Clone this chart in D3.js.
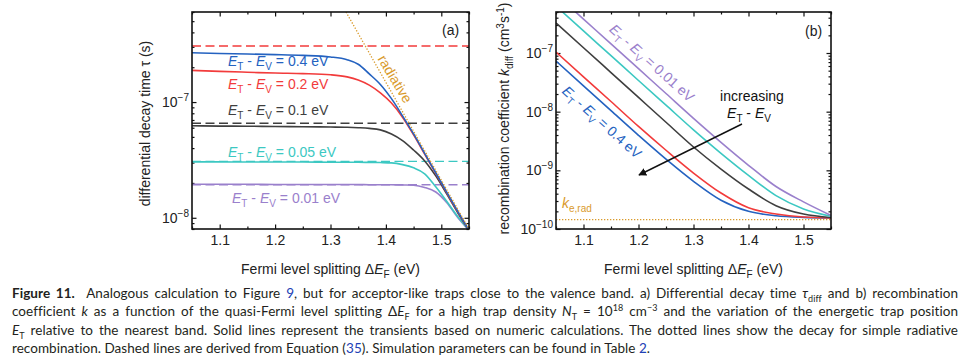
<!DOCTYPE html>
<html lang="en">
<head>
<meta charset="UTF-8">
<title>Figure 11</title>
<script src="https://cdn.jsdelivr.net/npm/d3@7"></script>
<style>
  body { margin: 0; background: #fff; width: 966px; height: 362px; overflow: hidden; position: relative; }
  svg text { font-family: "Liberation Sans", Arial, sans-serif; }
  .caption { position: absolute; left: 12px; top: 284px; width: 946px; font-family: Lato, sans-serif;
             font-size: 13.5px; line-height: 18.3px; color: #231f20; letter-spacing: 0.05px; }
  .caption .ln { text-align: justify; text-align-last: justify; }
  .caption sub, .caption sup { font-size: 9px; line-height: 0; }
  .caption a { color: #2141b5; text-decoration: none; }
</style>
</head>
<body>
<div id="chart"></div>
<div class="caption">
  <div class="ln"><b>Figure 11.</b>&nbsp; Analogous calculation to Figure <a>9</a>, but for acceptor-like traps close to the valence band. a) Differential decay time <i>τ</i><sub>diff</sub> and b) recombination</div>
  <div class="ln">coefficient <i>k</i> as a function of the quasi-Fermi level splitting Δ<i>E</i><sub>F</sub> for a high trap density <i>N</i><sub>T</sub> = 10<sup>18</sup> cm<sup>−3</sup> and the variation of the energetic trap position</div>
  <div class="ln"><i>E</i><sub>T</sub> relative to the nearest band. Solid lines represent the transients based on numeric calculations. The dotted lines show the decay for simple radiative</div>
  <div>recombination. Dashed lines are derived from Equation (<a>35</a>). Simulation parameters can be found in Table <a>2</a>.</div>
</div>
<script>
// trap positions E_T - E_V (eV), one colour each
const trapLevels = ["0.4", "0.2", "0.1", "0.05", "0.01"];
const colors = { "0.4": "#2462c0", "0.2": "#f23b3b", "0.1": "#3f3f3f", "0.05": "#3cc8c2", "0.01": "#9a80cc", rad: "#d99a2b" };

// (a) differential decay time tau (s) vs Fermi level splitting
const eA = [1.05, 1.10, 1.15, 1.20, 1.25, 1.30, 1.33, 1.35, 1.37, 1.39, 1.41, 1.43, 1.45, 1.47, 1.49, 1.51, 1.53, 1.55];
const tau04 = [2.67e-7, 2.63e-7, 2.60e-7, 2.57e-7, 2.53e-7, 2.45e-7, 2.32e-7, 2.12e-7, 1.75e-7, 1.42e-7, 1.07e-7, 7.6e-8, 5.3e-8, 3.6e-8, 2.45e-8, 1.66e-8, 1.13e-8, 7.8e-9];
const tau02 = [1.88e-7, 1.84e-7, 1.81e-7, 1.78e-7, 1.76e-7, 1.72e-7, 1.65e-7, 1.55e-7, 1.40e-7, 1.20e-7, 9.8e-8, 7.4e-8, 5.2e-8, 3.55e-8, 2.42e-8, 1.64e-8, 1.12e-8, 7.8e-9];
const tau01 = [6.25e-8, 6.2e-8, 6.18e-8, 6.15e-8, 6.12e-8, 6.08e-8, 6.05e-8, 6.0e-8, 5.92e-8, 5.75e-8, 5.3e-8, 4.65e-8, 3.85e-8, 3.1e-8, 2.3e-8, 1.6e-8, 1.1e-8, 7.8e-9];
const tau005 = [3.04e-8, 3.04e-8, 3.03e-8, 3.03e-8, 3.03e-8, 3.02e-8, 3.02e-8, 3.02e-8, 3.01e-8, 3.0e-8, 2.98e-8, 2.88e-8, 2.7e-8, 2.4e-8, 1.85e-8, 1.38e-8, 1.02e-8, 7.8e-9];
const tau001 = [1.95e-8, 1.95e-8, 1.95e-8, 1.94e-8, 1.94e-8, 1.94e-8, 1.94e-8, 1.94e-8, 1.93e-8, 1.93e-8, 1.93e-8, 1.92e-8, 1.91e-8, 1.83e-8, 1.67e-8, 1.35e-8, 1.0e-8, 7.8e-9];
// dashed analytic levels (Equation 35)
const dashLevels = ["0.2", "0.1", "0.05", "0.01"];
const dashTau = [3.05e-7, 6.55e-8, 3.07e-8, 1.93e-8];
// radiative limit (dotted)
const radE = [1.328, 1.55];
const radTau = [6e-7, 8e-9];

// (b) recombination coefficient k_diff (cm^3 s^-1)
const eB = [1.05, 1.10, 1.15, 1.20, 1.25, 1.30, 1.35, 1.40, 1.45, 1.50, 1.55];
const k04 = [7.3e-8, 2.75e-8, 1.04e-8, 3.95e-9, 1.55e-9, 6.5e-10, 3.1e-10, 2.0e-10, 1.68e-10, 1.58e-10, 1.55e-10];
const k02 = [1.04e-7, 3.93e-8, 1.49e-8, 5.6e-9, 2.2e-9, 9.0e-10, 4.1e-10, 2.3e-10, 1.8e-10, 1.6e-10, 1.55e-10];
const k01 = [3.25e-7, 1.23e-7, 4.64e-8, 1.75e-8, 6.6e-9, 2.5e-9, 1.05e-9, 4.8e-10, 2.5e-10, 1.8e-10, 1.57e-10];
const k005 = [6.3e-7, 2.38e-7, 9.0e-8, 3.4e-8, 1.29e-8, 4.9e-9, 1.95e-9, 8.2e-10, 3.7e-10, 2.2e-10, 1.65e-10];
const k001 = [1.0e-6, 3.78e-7, 1.43e-7, 5.4e-8, 2.04e-8, 7.7e-9, 3.0e-9, 1.22e-9, 5.3e-10, 2.9e-10, 1.7e-10];
const kRadE = [1.05, 1.55];
const kRad = [1.45e-10, 1.45e-10];

const xTicks = [1.1, 1.2, 1.3, 1.4, 1.5];
const xMinor = [1.05, 1.15, 1.25, 1.35, 1.45, 1.55];

const tauSeries = { "0.4": tau04, "0.2": tau02, "0.1": tau01, "0.05": tau005, "0.01": tau001 };
const kSeries = { "0.4": k04, "0.2": k02, "0.1": k01, "0.05": k005, "0.01": k001 };

const svg = d3.select("#chart").append("svg").attr("width", 966).attr("height", 282);

function minorLog(lo, hi) {
  const out = [];
  for (let p = Math.floor(Math.log10(lo)); p <= Math.ceil(Math.log10(hi)); p++)
    for (let m = 1; m <= 9; m++) {
      const v = m * Math.pow(10, p);
      if (v >= lo * 0.999 && v <= hi * 1.001) out.push(v);
    }
  return out;
}

function powLabel(sel) {
  sel.each(function(d) {
    const t = d3.select(this).text(null);
    t.append("tspan").text("10");
    t.append("tspan").attr("dy", "-0.6em").attr("font-size", "10px").text("−" + Math.abs(Math.round(Math.log10(d))));
  });
}

function makePanel(id, left, width, yDomain) {
  const top = 12, height = 217;
  const g = svg.append("g").attr("transform", `translate(${left},${top})`);
  const x = d3.scaleLinear().domain([1.05, 1.55]).range([0, width]);
  const y = d3.scaleLog().domain(yDomain).range([height, 0]);

  g.append("clipPath").attr("id", "clip" + id)
    .append("rect").attr("width", width).attr("height", height);

  const yMajor = minorLog(yDomain[0], yDomain[1]).filter(v => Math.abs(Math.log10(v) - Math.round(Math.log10(v))) < 1e-9);
  const yMinor = minorLog(yDomain[0], yDomain[1]).filter(v => !yMajor.includes(v));

  const styleAxis = a => { a.select(".domain").remove(); a.selectAll("line").attr("stroke", "#111").attr("stroke-width", 1.2); };

  // bottom / top
  g.append("g").attr("transform", `translate(0,${height})`)
    .call(d3.axisBottom(x).tickValues(xTicks).tickSize(-4.5).tickSizeOuter(0).tickPadding(6).tickFormat(d3.format(".1f")))
    .call(styleAxis)
    .selectAll("text").attr("font-size", "14px").attr("fill", "#222");
  g.append("g").attr("transform", `translate(0,${height})`)
    .call(d3.axisBottom(x).tickValues(xMinor).tickSize(-2.5).tickSizeOuter(0).tickFormat(""))
    .call(styleAxis);
  g.append("g").call(d3.axisTop(x).tickValues(xTicks).tickSize(-4.5).tickSizeOuter(0).tickFormat("")).call(styleAxis);
  g.append("g").call(d3.axisTop(x).tickValues(xMinor).tickSize(-2.5).tickSizeOuter(0).tickFormat("")).call(styleAxis);

  // left / right
  g.append("g")
    .call(d3.axisLeft(y).tickValues(yMajor).tickSize(-4.5).tickSizeOuter(0).tickPadding(3))
    .call(styleAxis)
    .selectAll("text").attr("font-size", "14px").attr("fill", "#222").call(powLabel);
  g.append("g").call(d3.axisLeft(y).tickValues(yMinor).tickSize(-2.5).tickSizeOuter(0).tickFormat("")).call(styleAxis);
  g.append("g").attr("transform", `translate(${width},0)`)
    .call(d3.axisRight(y).tickValues(yMajor).tickSize(-4.5).tickSizeOuter(0).tickFormat("")).call(styleAxis);
  g.append("g").attr("transform", `translate(${width},0)`)
    .call(d3.axisRight(y).tickValues(yMinor).tickSize(-2.5).tickSizeOuter(0).tickFormat("")).call(styleAxis);

  const plot = g.append("g").attr("clip-path", `url(#clip${id})`);

  g.append("text")
    .attr("x", width / 2).attr("y", height + 45)
    .attr("text-anchor", "middle").attr("font-size", "14px").attr("fill", "#222")
    .call(t => {
      t.append("tspan").text("Fermi level splitting Δ");
      t.append("tspan").attr("font-style", "italic").text("E");
      t.append("tspan").attr("font-size", "10px").attr("dy", 4).text("F");
      t.append("tspan").attr("dy", -4).text(" (eV)");
    });

  return { g, plot, x, y, width, height };
}

// "E_T - E_V = ..." label pieces
function trapLabel(t, value) {
  t.append("tspan").attr("font-style", "italic").text("E");
  t.append("tspan").attr("font-size", "10px").attr("dy", 4).text("T");
  t.append("tspan").attr("dy", -4).text(" - ");
  t.append("tspan").attr("font-style", "italic").text("E");
  t.append("tspan").attr("font-size", "10px").attr("dy", 4).text("V");
  t.append("tspan").attr("dy", -4).text(value === null ? "" : ` = ${value} eV`);
}

// ---------- panel (a) ----------
const A = makePanel("a", 192, 277, [8e-9, 6e-7]);
const lineA = d3.line().x((d, i) => A.x(eA[i])).y(d => A.y(d)).curve(d3.curveMonotoneX);

dashLevels.forEach((lvl, i) => {
  A.plot.append("line")
    .attr("x1", A.x(1.05)).attr("x2", A.x(1.55))
    .attr("y1", A.y(dashTau[i])).attr("y2", A.y(dashTau[i]))
    .attr("stroke", colors[lvl]).attr("stroke-width", 1.4).attr("stroke-dasharray", "9,4.5");
});
trapLevels.slice().reverse().forEach(lvl => {
  A.plot.append("path").datum(tauSeries[lvl])
    .attr("d", lineA).attr("fill", "none").attr("stroke", colors[lvl]).attr("stroke-width", 1.6);
});
A.plot.append("path").datum(radTau)
  .attr("d", d3.line().x((d, i) => A.x(radE[i])).y(d => A.y(d)))
  .attr("fill", "none").attr("stroke", colors.rad).attr("stroke-width", 1.3).attr("stroke-dasharray", "1.3,1.7");

A.g.append("rect").attr("width", A.width).attr("height", A.height)
  .attr("fill", "none").attr("stroke", "#111").attr("stroke-width", 1.6);

[["0.4", 36, 54], ["0.2", 36, 77], ["0.1", 36, 103], ["0.05", 36, 145], ["0.01", 40, 191]].forEach(([lvl, dx, dy]) => {
  A.g.append("text").attr("x", dx).attr("y", dy).attr("font-size", "14px").attr("fill", colors[lvl])
    .call(t => trapLabel(t, lvl));
});
A.g.append("text").attr("x", 250).attr("y", 23).attr("font-size", "14px").attr("fill", "#222").text("(a)");
A.g.append("text").attr("transform", "translate(203,67) rotate(59)").attr("text-anchor", "middle")
  .attr("dy", "0.35em").attr("font-size", "14px").attr("fill", colors.rad).text("radiative");
A.g.append("text").attr("transform", `translate(-42,${A.height / 2 + 3}) rotate(-90)`)
  .attr("text-anchor", "middle").attr("font-size", "14px").attr("fill", "#222")
  .text("differential decay time τ (s)");

// ---------- panel (b) ----------
const B = makePanel("b", 556, 275, [1e-10, 5e-7]);
const lineB = d3.line().x((d, i) => B.x(eB[i])).y(d => B.y(d)).curve(d3.curveMonotoneX);

B.plot.append("path").datum(kRad)
  .attr("d", d3.line().x((d, i) => B.x(kRadE[i])).y(d => B.y(d)))
  .attr("fill", "none").attr("stroke", colors.rad).attr("stroke-width", 1.3).attr("stroke-dasharray", "1.3,1.7");
trapLevels.forEach(lvl => {
  B.plot.append("path").datum(kSeries[lvl])
    .attr("d", lineB).attr("fill", "none").attr("stroke", colors[lvl]).attr("stroke-width", 1.6);
});

B.g.append("rect").attr("width", B.width).attr("height", B.height)
  .attr("fill", "none").attr("stroke", "#111").attr("stroke-width", 1.6);

B.g.append("text").attr("x", 249).attr("y", 24).attr("font-size", "14px").attr("fill", "#222").text("(b)");
B.g.append("text").attr("transform", "translate(96,51) rotate(41.8)").attr("text-anchor", "middle")
  .attr("dy", "0.35em").attr("font-size", "14px").attr("fill", colors["0.01"]).call(t => trapLabel(t, "0.01"));
B.g.append("text").attr("transform", "translate(46,110) rotate(41.8)").attr("text-anchor", "middle")
  .attr("dy", "0.35em").attr("font-size", "14px").attr("fill", colors["0.4"]).call(t => trapLabel(t, "0.4"));
B.g.append("text").attr("x", 196).attr("y", 89).attr("text-anchor", "middle")
  .attr("font-size", "14px").attr("fill", "#111").text("increasing");
B.g.append("text").attr("x", 193).attr("y", 106).attr("text-anchor", "middle")
  .attr("font-size", "14px").attr("fill", "#111").call(t => trapLabel(t, null));

svg.append("defs").append("marker").attr("id", "head")
  .attr("viewBox", "0 0 10 10").attr("refX", 9).attr("refY", 5)
  .attr("markerWidth", 8).attr("markerHeight", 8).attr("markerUnits", "userSpaceOnUse").attr("orient", "auto")
  .append("path").attr("d", "M0,0L10,5L0,10Z").attr("fill", "#111");
B.g.append("line").attr("x1", 186).attr("y1", 112).attr("x2", 83).attr("y2", 163)
  .attr("stroke", "#111").attr("stroke-width", 1.4).attr("marker-end", "url(#head)");

B.g.append("text").attr("x", 6).attr("y", 196).attr("font-size", "14px").attr("fill", colors.rad)
  .call(t => {
    t.append("tspan").attr("font-style", "italic").text("k");
    t.append("tspan").attr("font-size", "10px").attr("dy", 4).text("e,rad");
  });
B.g.append("text").attr("transform", `translate(-47,${B.height / 2 - 2}) rotate(-90)`)
  .attr("text-anchor", "middle").attr("font-size", "14px").attr("fill", "#222")
  .call(t => {
    t.append("tspan").text("recombination coefficient ");
    t.append("tspan").attr("font-style", "italic").text("k");
    t.append("tspan").attr("font-size", "10px").attr("dy", 4).text("diff");
    t.append("tspan").attr("dy", -4).text(" (cm");
    t.append("tspan").attr("font-size", "10px").attr("dy", -5).text("3");
    t.append("tspan").attr("dy", 5).text("s");
    t.append("tspan").attr("font-size", "10px").attr("dy", -5).text("-1");
    t.append("tspan").attr("dy", 5).text(")");
  });
</script>
</body>
</html>
